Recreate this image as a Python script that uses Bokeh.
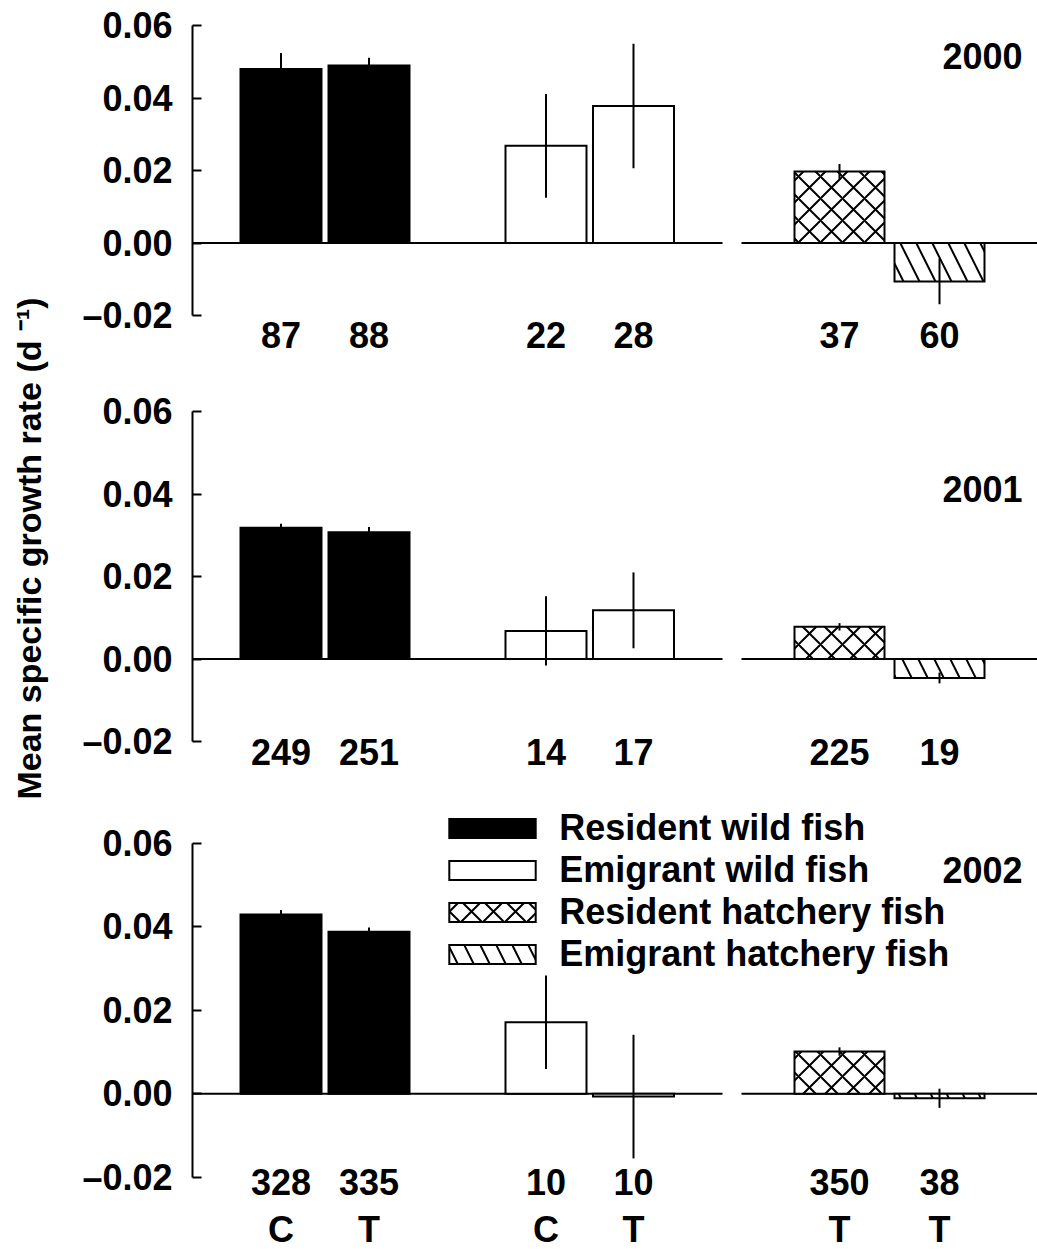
import math
from bokeh.plotting import figure
from bokeh.models import Range1d, LinearAxis, FixedTicker, ColumnDataSource, Legend, LegendItem
from bokeh.layouts import row, column
from bokeh.embed import file_html
from bokeh.resources import INLINE
from bokeh.core.properties import value

# ---------------- data ----------------
years = ["2000", "2001", "2002"]
fish_groups = ["Resident wild fish", "Emigrant wild fish",
               "Resident hatchery fish", "Emigrant hatchery fish"]
bar_group = [0, 0, 1, 1, 2, 3]
treatment = ["C", "T", "C", "T", "T", "T"]

mean_2000 = [0.0480, 0.0490, 0.0268, 0.0378, 0.0197, -0.0106]
se_2000 = [0.0044, 0.0021, 0.0143, 0.0172, 0.0021, 0.0063]
n_2000 = [87, 88, 22, 28, 37, 60]

mean_2001 = [0.0318, 0.0307, 0.0068, 0.0118, 0.0078, -0.0046]
se_2001 = [0.0010, 0.0013, 0.0084, 0.0092, 0.0009, 0.0013]
n_2001 = [249, 251, 14, 17, 225, 19]

mean_2002 = [0.0429, 0.0388, 0.0171, -0.0007, 0.0101, -0.0011]
se_2002 = [0.0011, 0.0010, 0.0112, 0.0148, 0.0010, 0.0023]
n_2002 = [328, 335, 10, 10, 350, 38]

y_ticks = [-0.02, 0.0, 0.02, 0.04, 0.06]
y_tick_labels = ["\u20130.02", "0.00", "0.02", "0.04", "0.06"]
y_label = "Mean specific growth rate (d \u207b\u00b9)"

# ---------------- layout (pixels) ----------------
FONT = "Liberation Sans"
FS = "36px"
ORIGIN = 0
LABEL_W = 50
RIGHT_X = 1037
PANEL_W = RIGHT_X - ORIGIN - LABEL_W
AXIS_X = 192            # page x of the y axis
BAR_CENTER = [280.5, 368.5, 545.5, 633.0, 839.0, 939.0]
BAR_WIDTH = [81, 81, 81, 81, 90, 90]
ZERO_SEGS = [(AXIS_X, 722), (741, RIGHT_X)]
# canvas top, canvas bottom, y of 0.06, y of -0.02 (page pixels)
PANELS = [(0, 380, 25.0, 315.0), (380, 790, 411.0, 741.0), (790, 1249, 842.7, 1176.7)]
TOTAL_H = 1249
YEAR_OFF = [30, 77, 27]
N_OFF = [19, 10, 5]
TRT_OFF = 52

# legend geometry (bokeh draws area glyphs at 80% of the glyph box)
LEG_GW, LEG_GH = 86 / 0.8, 19 / 0.8
LEG_LEFT = 449 - 0.1 * LEG_GW
LEG_ROW_H = 42
LEG_TOP = 827.5 - LEG_ROW_H / 2

STYLES = [
    dict(fill_color="black"),
    dict(fill_color="white"),
    dict(fill_color="white", hatch_pattern="x", hatch_color="black",
         hatch_weight=2, hatch_scale=22),
    dict(fill_color="white", hatch_pattern="\\", hatch_color="black",
         hatch_weight=2, hatch_scale=32),
]

means = [mean_2000, mean_2001, mean_2002]
ses = [se_2000, se_2001, se_2002]
ns = [n_2000, n_2001, n_2002]

panels = []
for k in range(3):
    ctop, cbot, ytop, ybot = PANELS[k]
    scale = (ybot - ytop) / 0.08
    y_end = 0.06 + (ytop - ctop) / scale
    y_start = -0.02 - (cbot - ybot) / scale
    p = figure(width=PANEL_W, height=int(cbot - ctop),
               x_range=Range1d(AXIS_X, RIGHT_X), y_range=Range1d(y_start, y_end),
               x_axis_type=None, y_axis_type=None, toolbar_location=None,
               output_backend="svg", min_border_left=AXIS_X - ORIGIN - LABEL_W,
               min_border_right=0, min_border_top=0, min_border_bottom=0,
               outline_line_color=None, background_fill_color="white",
               border_fill_color="white")
    p.xgrid.visible = False
    p.ygrid.visible = False

    ax = LinearAxis(ticker=FixedTicker(ticks=y_ticks), bounds=(-0.02, 0.06),
                    major_label_overrides={t: s for t, s in zip(y_ticks, y_tick_labels)})
    ax.axis_line_width = 2
    ax.major_tick_line_width = 2
    ax.major_tick_in = 9
    ax.major_tick_out = 0
    ax.minor_tick_line_color = None
    ax.major_label_standoff = 20
    ax.major_label_text_font = FONT
    ax.major_label_text_font_style = "bold"
    ax.major_label_text_font_size = FS
    ax.major_label_text_color = "black"
    p.add_layout(ax, "left")

    # zero line segments
    p.segment(x0=[s[0] for s in ZERO_SEGS], y0=[0, 0],
              x1=[s[1] for s in ZERO_SEGS], y1=[0, 0],
              line_color="black", line_width=2)

    renderers = []
    for g in range(4):
        idx = [i for i in range(6) if bar_group[i] == g]
        src = ColumnDataSource(dict(
            x=[BAR_CENTER[i] for i in idx],
            w=[BAR_WIDTH[i] for i in idx],
            top=[means[k][i] for i in idx],
            bottom=[0.0] * len(idx)))
        r = p.vbar(x="x", width="w", top="top", bottom="bottom", source=src,
                   line_color="black", line_width=2, line_join="miter",
                   **STYLES[g])
        renderers.append(r)

    # error bars (mean +/- SE)
    p.segment(x0=BAR_CENTER, x1=BAR_CENTER,
              y0=[m - s for m, s in zip(means[k], ses[k])],
              y1=[m + s for m, s in zip(means[k], ses[k])],
              line_color="black", line_width=2)

    # sample sizes
    p.text(x=BAR_CENTER, y=[-0.02] * 6, text=[str(v) for v in ns[k]],
           y_offset=N_OFF[k], text_font=value(FONT), text_font_style="bold",
           text_font_size=FS, text_align="center", text_baseline="middle",
           text_color="black")
    if k == 2:
        p.text(x=BAR_CENTER, y=[-0.02] * 6, text=treatment,
               y_offset=TRT_OFF, text_font=value(FONT), text_font_style="bold",
               text_font_size=FS, text_align="center", text_baseline="middle",
               text_color="black")

    # year
    p.text(x=[1022], y=[0.06], text=[years[k]], y_offset=YEAR_OFF[k],
           text_font=value(FONT), text_font_style="bold", text_font_size=FS,
           text_align="right", text_baseline="middle", text_color="black")

    if k == 2:
        legend = Legend(items=[LegendItem(label=fish_groups[g], renderers=[renderers[g]])
                               for g in range(4)],
                        location=(LEG_LEFT - AXIS_X, cbot - (LEG_TOP + 4 * LEG_ROW_H)),
                        orientation="vertical", glyph_width=int(round(LEG_GW)),
                        glyph_height=int(round(LEG_GH)),
                        label_height=LEG_ROW_H, spacing=0, padding=0, margin=0,
                        label_standoff=13, border_line_color=None,
                        background_fill_alpha=0.0,
                        label_text_font=FONT, label_text_font_style="bold",
                        label_text_font_size=FS, label_text_color="black")
        p.add_layout(legend)
    panels.append(p)

# y-axis label column
yl = figure(width=LABEL_W, height=TOTAL_H, x_range=Range1d(0, LABEL_W),
            y_range=Range1d(0, TOTAL_H), x_axis_type=None, y_axis_type=None,
            toolbar_location=None, output_backend="svg", min_border=0,
            outline_line_color=None, background_fill_color="white",
            border_fill_color="white")
yl.xgrid.visible = False
yl.ygrid.visible = False
yl.text(x=[28 - ORIGIN], y=[TOTAL_H - (548 - ORIGIN)], text=[y_label], angle=math.pi / 2,
        text_font=value(FONT), text_font_style="bold", text_font_size="34px",
        text_align="center", text_baseline="middle", text_color="black")

layout = row(yl, column(*panels, spacing=0), spacing=0)
open("out.html", "w").write(file_html(layout, INLINE))
